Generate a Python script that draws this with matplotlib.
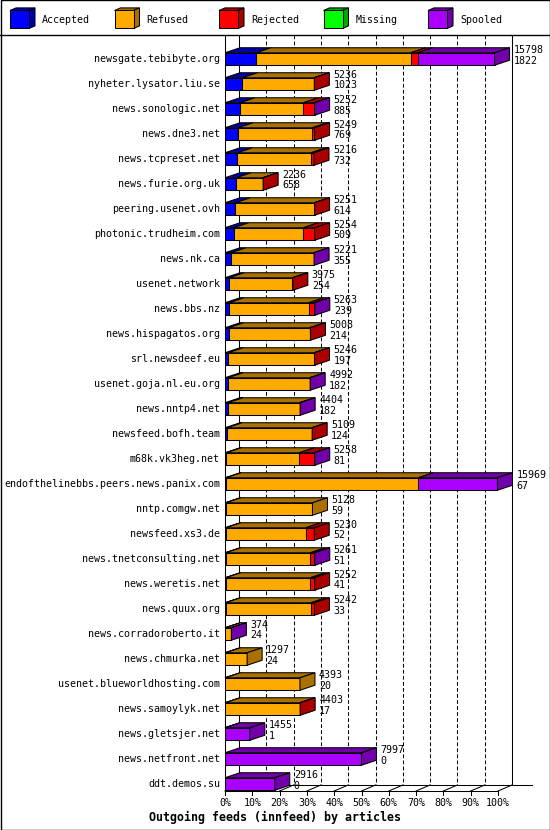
import matplotlib
matplotlib.use('Agg')
import matplotlib.pyplot as plt
from matplotlib.patches import Polygon, Rectangle

# outgoing innfeed peers, sorted by accepted articles
hosts = ['newsgate.tebibyte.org', 'nyheter.lysator.liu.se', 'news.sonologic.net',
         'news.dne3.net', 'news.tcpreset.net', 'news.furie.org.uk',
         'peering.usenet.ovh', 'photonic.trudheim.com', 'news.nk.ca',
         'usenet.network', 'news.bbs.nz', 'news.hispagatos.org',
         'srl.newsdeef.eu', 'usenet.goja.nl.eu.org', 'news.nntp4.net',
         'newsfeed.bofh.team', 'm68k.vk3heg.net', 'endofthelinebbs.peers.news.panix.com',
         'nntp.comgw.net', 'newsfeed.xs3.de', 'news.tnetconsulting.net',
         'news.weretis.net', 'news.quux.org', 'news.corradoroberto.it',
         'news.chmurka.net', 'usenet.blueworldhosting.com', 'news.samoylyk.net',
         'news.gletsjer.net', 'news.netfront.net', 'ddt.demos.su']
offered = [15798, 5236, 5252, 5249, 5216, 2236, 5251, 5254, 5221, 3975,
           5263, 5008, 5246, 4992, 4404, 5109, 5258, 15969, 5128, 5230,
           5261, 5252, 5242, 374, 1297, 4393, 4403, 1455, 7997, 2916]
accepted = [1822, 1023, 885, 769, 732, 658, 614, 509, 355, 254,
            239, 214, 197, 182, 182, 124, 81, 67, 59, 52,
            51, 41, 33, 24, 24, 20, 17, 1, 0, 0]
refused = [9063, 4183, 3705, 4348, 4309, 1552, 4617, 4081, 4846, 3691,
           4666, 4744, 5024, 4785, 4192, 4960, 4276, 11266, 5069, 4677,
           4951, 4961, 4999, 330, 1273, 4373, 4356, 0, 0, 0]
rejected = [410, 30, 640, 132, 175, 26, 20, 664, 0, 30,
            330, 50, 25, 0, 0, 25, 873, 0, 0, 501,
            230, 250, 210, 0, 0, 0, 30, 0, 0, 0]
missing = [0] * 30
spooled = [4503, 0, 22, 0, 0, 0, 0, 0, 20, 0,
           28, 0, 0, 25, 30, 0, 28, 4636, 0, 0,
           29, 0, 0, 20, 0, 0, 0, 1454, 7997, 2916]

categories = ['Accepted', 'Refused', 'Rejected', 'Missing', 'Spooled']
series = [accepted, refused, rejected, missing, spooled]
front_colors = ['#0000ff', '#ffaa00', '#ff0000', '#00ff00', '#aa00ff']
shade_colors = ['#0000aa', '#aa7100', '#aa0000', '#00aa00', '#7100aa']
tick_labels = ['%d%%' % p for p in range(0, 101, 10)]

plt.rcParams['font.family'] = 'DejaVu Sans Mono'
plt.rcParams['font.size'] = 7.2

W, H = 550, 830
fig = plt.figure(figsize=(W / 100, H / 100), dpi=100)

# plot area in pixels (front plane), rows every 25 px
left_px, right_px, top_px, floor_px = 225, 498, 35, 791
row0_px, row_step = 59, 25
xmax = 16000

ax = fig.add_axes([left_px / W, 1 - floor_px / H,
                   (right_px - left_px) / W, (floor_px - top_px) / H])
y_bottom = (floor_px - row0_px) / row_step
y_top = (top_px - row0_px) / row_step
ax.set_xlim(0, xmax)
ax.set_ylim(y_bottom, y_top)
ax.axis('off')

px = xmax / (right_px - left_px)   # articles per pixel
py = 1.0 / row_step                # rows per pixel
bar_dx, bar_dy = 15 * px, 5 * py   # depth of the bars
back_dx, back_dy = 14 * px, 6 * py  # depth of the floor / back wall
lw = 0.75

# back wall: grid lines
ticks = [xmax * k / 10 for k in range(11)]
y_back = y_bottom - back_dy
for k, t in enumerate(ticks):
    style = '-' if k in (0, 10) else (0, (3.6, 2.2))
    ax.plot([t + back_dx, t + back_dx], [y_top, y_back], color='black',
            lw=lw, linestyle=style, clip_on=False, zorder=1)
    # little floor ticks running backwards
    ax.plot([t, t + back_dx], [y_bottom, y_back], color='black', lw=lw,
            clip_on=False, zorder=1)
    # front ticks below the axis
    ax.plot([t, t], [y_bottom, y_bottom + 4 * py], color='black', lw=lw,
            clip_on=False, zorder=1)
    ax.text(t, y_bottom + 12 * py, tick_labels[k], ha='center', va='center')

# floor and front axis
ax.plot([0, xmax], [y_bottom, y_bottom], color='black', lw=lw, clip_on=False, zorder=1)
ax.plot([back_dx, xmax + 34 * px], [y_back, y_back], color='black', lw=lw,
        clip_on=False, zorder=1)
ax.plot([0, 0], [y_top, y_bottom + 4 * py], color='black', lw=lw, clip_on=False, zorder=1)

# 3d stacked bars
h = 0.5
for i, host in enumerate(hosts):
    left = 0
    last = None
    ytop = i - h / 2
    for s, vals in enumerate(series):
        w = vals[i]
        if w <= 0:
            continue
        ax.barh(i, w, left=left, height=h, color=front_colors[s],
                edgecolor='black', linewidth=lw, zorder=3)
        ax.add_patch(Polygon([(left, ytop), (left + w, ytop),
                              (left + w + bar_dx, ytop - bar_dy),
                              (left + bar_dx, ytop - bar_dy)],
                             closed=True, facecolor=shade_colors[s],
                             edgecolor='black', lw=lw, zorder=3, clip_on=False))
        left += w
        last = s
    if last is not None:
        ax.add_patch(Polygon([(left, ytop), (left + bar_dx, ytop - bar_dy),
                              (left + bar_dx, ytop + h - bar_dy), (left, ytop + h)],
                             closed=True, facecolor=shade_colors[last],
                             edgecolor='black', lw=lw, zorder=3, clip_on=False))
    # labels
    ax.text(-5 * px, i, host, ha='right', va='center', clip_on=False)
    xt = left + bar_dx + 4 * px
    ax.text(xt, i - 9 * py, str(offered[i]), ha='left', va='center', zorder=4)
    ax.text(xt, i + 1.5 * py, str(accepted[i]), ha='left', va='center', zorder=4)

# frame, legend and title in figure pixels
deco = fig.add_axes([0, 0, 1, 1])
deco.set_xlim(0, W)
deco.set_ylim(H, 0)
deco.axis('off')
deco.add_patch(Rectangle((0.5, 0.5), W - 1, H - 1, fill=False, edgecolor='black', lw=1))
deco.plot([0, W], [35, 35], color='black', lw=1)

for k, name in enumerate(categories):
    x0 = 10 + k * 104.5
    y0, side, dx, dy = 10.5, 18, 6, 2.6
    deco.add_patch(Polygon([(x0, y0), (x0 + 19, y0), (x0 + 19 + dx, y0 - dy),
                            (x0 + dx, y0 - dy)], closed=True,
                           facecolor=shade_colors[k], edgecolor='black', lw=lw))
    deco.add_patch(Polygon([(x0 + 19, y0), (x0 + 19 + dx, y0 - dy),
                            (x0 + 19 + dx, y0 + side - dy), (x0 + 19, y0 + side)],
                           closed=True, facecolor=shade_colors[k],
                           edgecolor='black', lw=lw))
    deco.add_patch(Rectangle((x0, y0), 19, side, facecolor=front_colors[k],
                             edgecolor='black', lw=lw))
    deco.text(x0 + 32, 20, name, ha='left', va='center')

deco.text(275, 817, 'Outgoing feeds (innfeed) by articles', ha='center',
          va='center', fontsize=8.4, fontweight='bold')

plt.savefig('out.png', dpi=100)
